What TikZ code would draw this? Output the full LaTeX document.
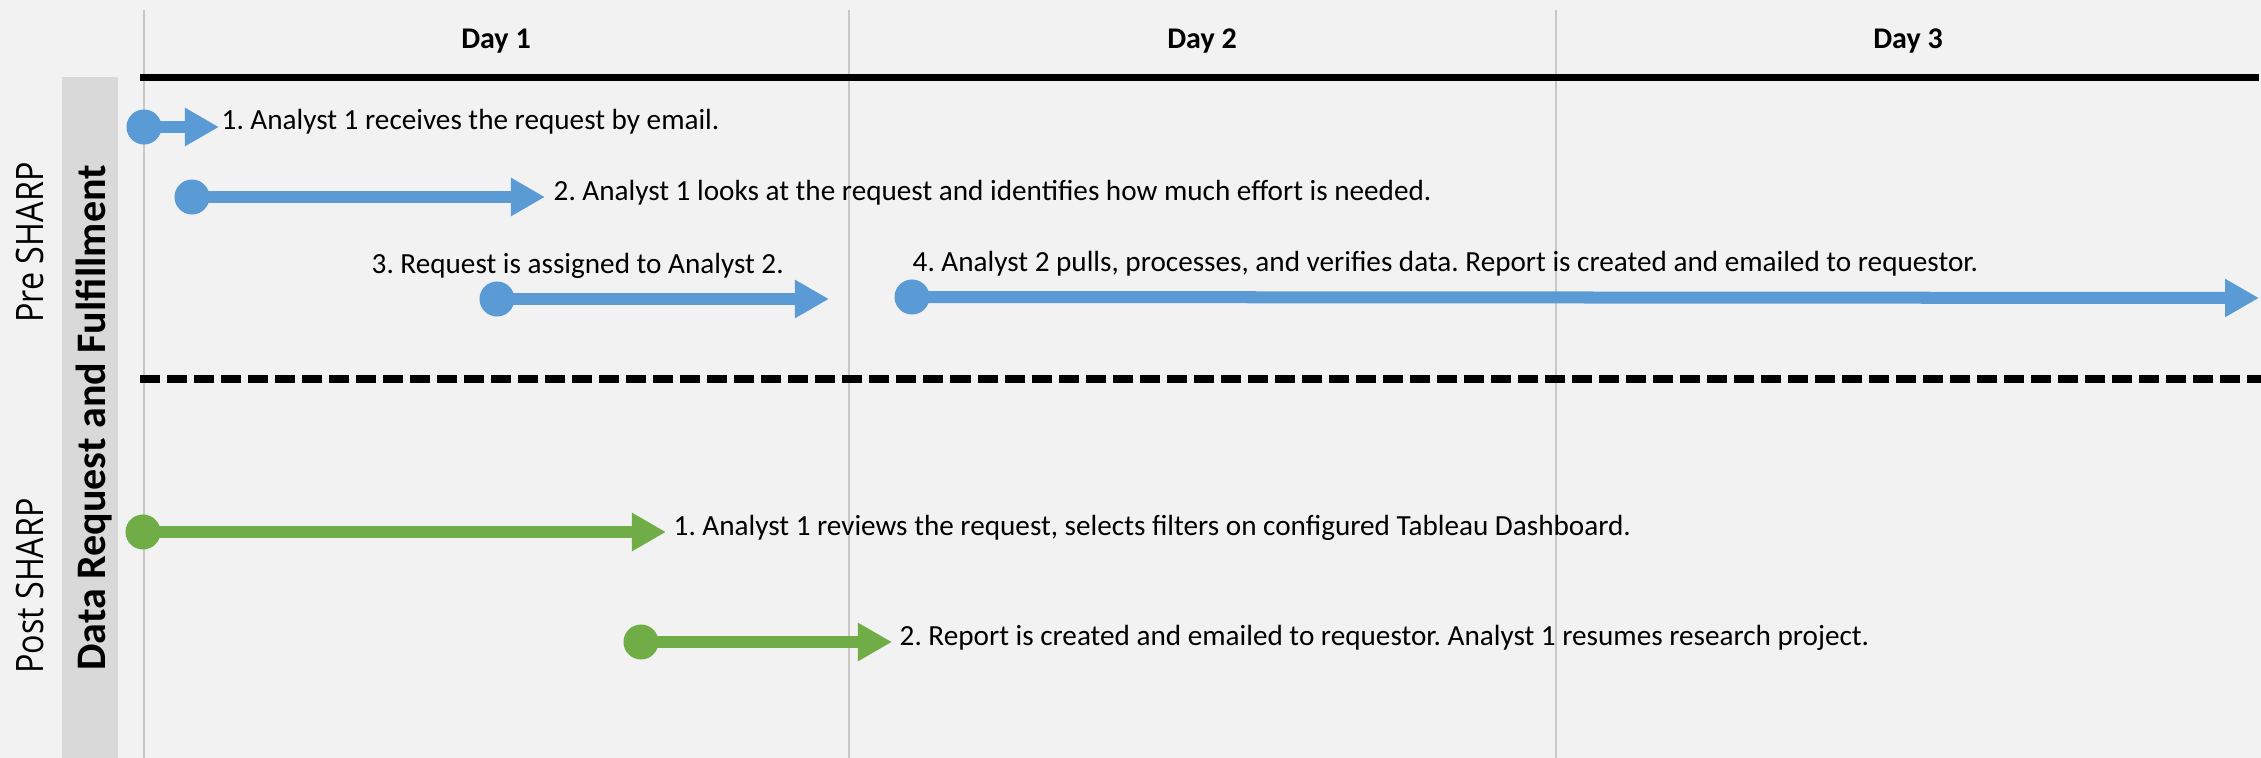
\documentclass[tikz,border=0pt]{standalone}
\usepackage{fontspec}
\setmainfont{Carlito}
\newfontfamily\sideFont{Open Sans}
\usetikzlibrary{arrows.meta, positioning}
\definecolor{bgGray}{HTML}{F2F2F2}
\definecolor{bandGray}{HTML}{D9D9D9}
\definecolor{gridGray}{HTML}{C8C8C8}
\definecolor{stepBlue}{HTML}{5B9BD5}
\definecolor{stepGreen}{HTML}{70AD47}
\frenchspacing
\tikzset{
  stepDot/.style={circle, fill=#1, minimum size=0.35cm, inner sep=0pt, outer sep=0pt},
  stepBar/.style={draw=#1, line width=0.12cm, -{Triangle[length=0.34cm, width=0.36cm]}},
  stepText/.style={anchor=base west, inner sep=0pt, font=\fontsize{8.3}{10}\selectfont},
  dayText/.style={anchor=base, inner sep=0pt, font=\fontsize{8.54}{10}\selectfont\bfseries},
  sideText/.style={anchor=base, rotate=90, inner sep=0pt, font=\fontsize{9.19}{11}\sideFont},
  bandText/.style={anchor=base, rotate=90, inner sep=0pt, font=\fontsize{11.95}{14}\selectfont\bfseries},
}

\begin{document}
\begin{tikzpicture}[x=0.01cm, y=-0.01cm]
  \fill[bgGray] (0,0) rectangle (2261,758);
  \useasboundingbox (0,0) rectangle (2261,758);
  \fill[bandGray] (62,77) rectangle (118,758);
  \foreach \x in {144,849,1556}{
    \draw[gridGray, line width=0.02cm] (\x,10) -- (\x,758);
  };
  \draw[line width=0.07cm] (140,77.5) -- (2259,77.5);
  \draw[line width=0.07cm, dash pattern=on 0.2cm off 0.07cm] (140,379) -- (2261,379);

  \foreach \x/\d in {496/1,1202/2,1908/3}{
    \node[dayText] (day\d) at (\x,49) {Day \d};
  };

  \node[sideText] (pre) at (43,242.5) {\scalebox{1}[1.17]{Pre SHARP}};
  \node[sideText] (post) at (43,586) {\scalebox{1}[1.17]{Post SHARP}};
  \node[bandText] (band) at (105,418) {Data Request and Fulfillment};

  \node[stepDot=stepBlue] (pre1) at (144,127) {};
  \coordinate (pre1end) at (219,127);
  \draw[stepBar=stepBlue] (pre1.center) -- (pre1end);
  \node[stepText] (pre1text) at (221,130) {1. Analyst 1 receives the request by email.};

  \node[stepDot=stepBlue] (pre2) at (192,197) {};
  \coordinate (pre2end) at (545,197);
  \draw[stepBar=stepBlue] (pre2.center) -- (pre2end);
  \node[stepText] (pre2text) at (553,201) {2. Analyst 1 looks at the request and identifies how much effort is needed.};

  \node[stepDot=stepBlue] (pre3) at (497,299) {};
  \coordinate (pre3end) at (829,299);
  \draw[stepBar=stepBlue] (pre3.center) -- (pre3end);
  \node[stepText] (pre3text) at (371,274) {3. Request is assigned to Analyst 2.};

  \node[stepDot=stepBlue] (pre4) at (912,297) {};
  \coordinate (pre4end) at (2259,298);
  \draw[stepBar=stepBlue] (pre4.center) -- (pre4end);
  \node[stepText] (pre4text) at (912,272) {4. Analyst 2 pulls, processes, and verifies data. Report is created and emailed to requestor.};

  \node[stepDot=stepGreen] (post1) at (143,532) {};
  \coordinate (post1end) at (666,532);
  \draw[stepBar=stepGreen] (post1.center) -- (post1end);
  \node[stepText] (post1text) at (673,535) {1. Analyst 1 reviews the request, selects filters on configured Tableau Dashboard.};

  \node[stepDot=stepGreen] (post2) at (641,642) {};
  \coordinate (post2end) at (892,642);
  \draw[stepBar=stepGreen] (post2.center) -- (post2end);
  \node[stepText] (post2text) at (899,645) {2. Report is created and emailed to requestor. Analyst 1 resumes research project.};
\end{tikzpicture}
\end{document}
